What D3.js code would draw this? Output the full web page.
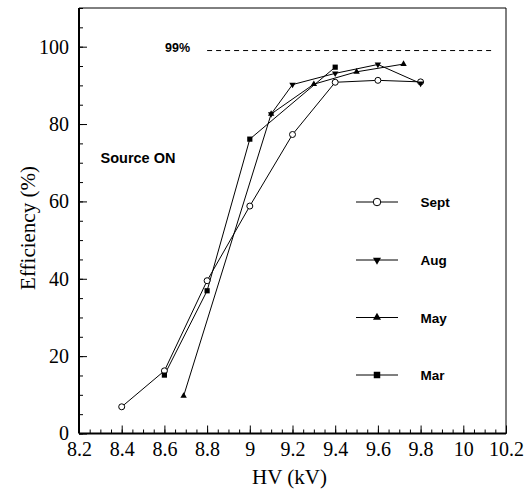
<!DOCTYPE html>
<html><head><meta charset="utf-8">
<script src="https://cdn.jsdelivr.net/npm/d3@7"></script>
<style>body{margin:0;background:#fff}</style>
</head><body>
<svg id="c" width="528" height="491"></svg>
<script>
// ---- data ----
const seriesNames = ["Sept", "Aug", "May", "Mar"];
const septHV  = [8.4, 8.6, 8.8, 9.0, 9.2, 9.4, 9.6, 9.8];
const septEff = [6.9, 16.2, 39.5, 58.8, 77.3, 90.8, 91.3, 90.9];
const augHV   = [9.1, 9.2, 9.4, 9.6, 9.8];
const augEff  = [82.6, 90.2, 93.1, 95.4, 90.5];
const mayHV   = [8.69, 9.1, 9.3, 9.5, 9.72];
const mayEff  = [9.7, 82.6, 90.3, 93.5, 95.5];
const marHV   = [8.6, 8.8, 9.0, 9.4];
const marEff  = [15.1, 36.9, 76.1, 94.7];
const xTickValues = [8.2, 8.4, 8.6, 8.8, 9.0, 9.2, 9.4, 9.6, 9.8, 10.0, 10.2];
const xTickLabels = ["8.2", "8.4", "8.6", "8.8", "9", "9.2", "9.4", "9.6", "9.8", "10", "10.2"];
const yTickValues = [0, 20, 40, 60, 80, 100];
const yTickLabels = ["0", "20", "40", "60", "80", "100"];
const thresholdValue = 99;
const thresholdRange = [8.8, 10.14];
const thresholdLabel = "99%";
const annotation = "Source ON";

// ---- layout ----
const svg = d3.select("#c");
const L = 79, R = 506, T = 8, B = 433.5;
const x = d3.scaleLinear().domain([8.2, 10.2]).range([L, R]);
const y = d3.scaleLinear().domain([0, 110]).range([B, T]);
const serif = "'Liberation Serif', 'Times New Roman', serif";
const sans = "'Liberation Sans', Arial, sans-serif";

// frame
svg.append("line").attr("x1", L).attr("x2", R).attr("y1", T).attr("y2", T).attr("stroke", "#000").attr("stroke-width", 1);
svg.append("line").attr("x1", R).attr("x2", R).attr("y1", T).attr("y2", B).attr("stroke", "#000").attr("stroke-width", 1);

// minor ticks
const xMinor = d3.range(8.2, 10.2001, 0.05).map(v => +v.toFixed(2));
const yMinor = d3.range(0, 110.001, 5);
svg.append("g").attr("transform", `translate(0,${B})`)
  .call(d3.axisBottom(x).tickValues(xMinor).tickSize(-4).tickFormat(""))
  .call(g => g.select(".domain").remove());
svg.append("g").attr("transform", `translate(${L},0)`)
  .call(d3.axisLeft(y).tickValues(yMinor).tickSize(-4).tickFormat(""))
  .call(g => g.select(".domain").remove());

// major axes
const xAxis = svg.append("g").attr("transform", `translate(0,${B})`)
  .call(d3.axisBottom(x).tickValues(xTickValues).tickSize(-8).tickPadding(8)
    .tickFormat((d, i) => xTickLabels[i]));
const yAxis = svg.append("g").attr("transform", `translate(${L},0)`)
  .call(d3.axisLeft(y).tickValues(yTickValues).tickSize(-8).tickPadding(10)
    .tickFormat((d, i) => yTickLabels[i]));
[xAxis, yAxis].forEach(g => {
  g.select(".domain").attr("stroke-width", 2);
  g.selectAll("text").attr("font-family", serif).attr("font-size", 20).attr("fill", "#000");
});
svg.selectAll(".tick line").attr("stroke", "#000");
// domain paths drawn with outer ticks; replace with straight lines
xAxis.select(".domain").attr("d", `M${L},0H${R}`);
yAxis.select(".domain").attr("d", `M0,${B}V${T}`);

// axis titles
svg.append("text").attr("x", (L + R) / 2 - 3).attr("y", 484)
  .attr("text-anchor", "middle").attr("font-family", serif).attr("font-size", 21).text("HV (kV)");
svg.append("text").attr("transform", `translate(35,228) rotate(-90)`)
  .attr("text-anchor", "middle").attr("font-family", serif).attr("font-size", 21).text("Efficiency (%)");

// threshold
svg.append("line").attr("x1", x(thresholdRange[0])).attr("x2", x(thresholdRange[1]))
  .attr("y1", y(thresholdValue)).attr("y2", y(thresholdValue))
  .attr("stroke", "#000").attr("stroke-width", 1).attr("stroke-dasharray", "5,4");
svg.append("text").attr("x", 165).attr("y", 52).attr("font-family", sans).attr("font-weight", "bold")
  .attr("font-size", 12.5).text(thresholdLabel);
svg.append("text").attr("x", 100.5).attr("y", 163).attr("font-family", sans).attr("font-weight", "bold")
  .attr("font-size", 14.5).text(annotation);

// series
const series = [
  {name: seriesNames[0], hv: septHV, eff: septEff, shape: "circle"},
  {name: seriesNames[1], hv: augHV, eff: augEff, shape: "down"},
  {name: seriesNames[2], hv: mayHV, eff: mayEff, shape: "up"},
  {name: seriesNames[3], hv: marHV, eff: marEff, shape: "square"}
];
const line = d3.line().x(d => x(d[0])).y(d => y(d[1]));

function marker(g, shape, big) {
  const k = big ? 1.25 : 1;
  if (shape === "circle") {
    g.append("path").attr("d", d3.symbol(d3.symbolCircle, Math.PI * 9 * k * k)())
      .attr("fill", "#fff").attr("stroke", "#000").attr("stroke-width", 1);
  } else if (shape === "square") {
    g.append("path").attr("d", d3.symbol(d3.symbolSquare, 27 * k * k)()).attr("fill", "#000");
  } else {
    const p = g.append("path").attr("d", d3.symbol(d3.symbolTriangle, 18 * k * k)()).attr("fill", "#000");
    if (shape === "down") p.attr("transform", "rotate(180)");
  }
}

series.forEach(s => {
  const pts = s.hv.map((v, i) => [v, s.eff[i]]);
  svg.append("path").datum(pts).attr("d", line).attr("fill", "none").attr("stroke", "#000").attr("stroke-width", 1);
});
series.forEach(s => {
  s.hv.forEach((v, i) => {
    const g = svg.append("g").attr("transform", `translate(${x(v)},${y(s.eff[i])})`);
    marker(g, s.shape, false);
  });
});

// legend
const legendRows = [202, 260, 317.5, 375];
series.forEach((s, i) => {
  const g = svg.append("g").attr("transform", `translate(0,${legendRows[i]})`);
  g.append("line").attr("x1", 356).attr("x2", 398).attr("y1", 0).attr("y2", 0).attr("stroke", "#000").attr("stroke-width", 1);
  const m = g.append("g").attr("transform", "translate(377,0)");
  marker(m, s.shape, true);
  g.append("text").attr("x", 420.5).attr("y", 5).attr("font-family", sans).attr("font-weight", "bold")
    .attr("font-size", 13.5).text(s.name);
});
</script>
</body></html>
